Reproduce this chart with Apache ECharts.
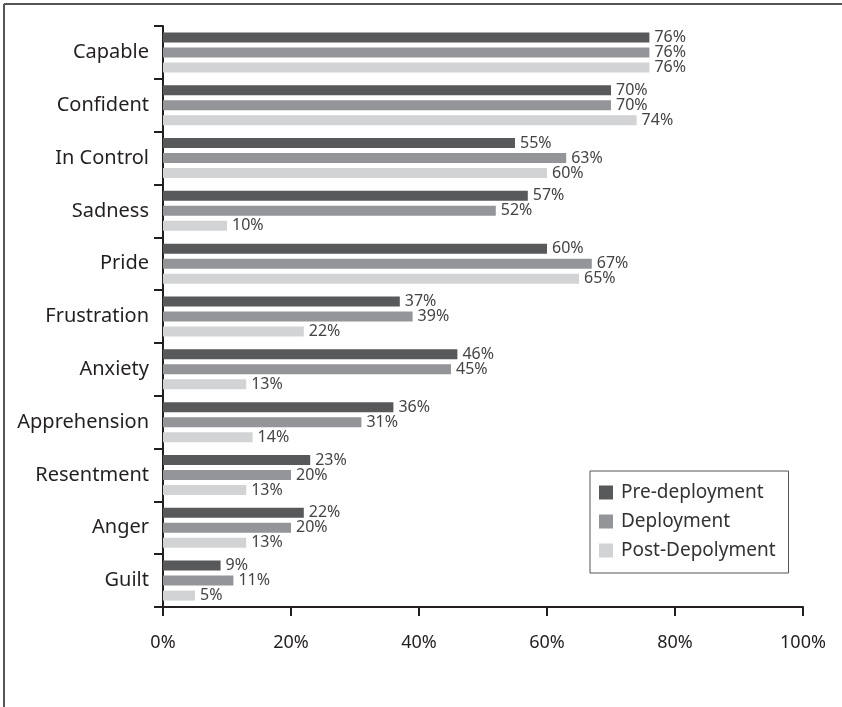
<!DOCTYPE html>
<html>
<head>
<meta charset="utf-8">
<script src="https://cdn.jsdelivr.net/npm/echarts@6/dist/echarts.min.js"></script>
<style>
  html, body { margin: 0; padding: 0; background: #fff; }
  #chart { width: 842px; height: 707px; }
</style>
</head>
<body>
<div id="chart"></div>
<script>
// Emotions reported across the three deployment phases (percent of respondents)
const categories = ['Capable', 'Confident', 'In Control', 'Sadness', 'Pride', 'Frustration',
  'Anxiety', 'Apprehension', 'Resentment', 'Anger', 'Guilt'];
const preDeployment = [76, 70, 55, 57, 60, 37, 46, 36, 23, 22, 9];
const deployment = [76, 70, 63, 52, 67, 39, 45, 31, 20, 20, 11];
const postDeployment = [76, 74, 60, 10, 65, 22, 13, 14, 13, 13, 5];
const seriesNames = ['Pre-deployment', 'Deployment', 'Post-Depolyment'];
const seriesColors = ['#58595b', '#939598', '#d1d3d4'];

const FONT = 'Noto Sans';
const chart = echarts.init(document.getElementById('chart'), null, { renderer: 'canvas' });

function barSeries(name, data, color) {
  return {
    name: name,
    type: 'bar',
    data: data,
    barWidth: 10,
    barGap: '50%',
    itemStyle: { color: color },
    label: {
      show: true,
      position: 'right',
      distance: 5,
      formatter: '{c}%',
      color: '#444',
      fontFamily: FONT,
      fontSize: 16
    },
    animation: false
  };
}

chart.setOption({
  backgroundColor: '#fff',
  animation: false,
  grid: { left: 163, right: 39, top: 26, bottom: 100, containLabel: false },
  legend: {
    orient: 'vertical',
    left: 590,
    top: 471,
    padding: [12, 13, 13, 9],
    itemWidth: 14,
    itemHeight: 14,
    itemGap: 10,
    borderColor: '#555',
    borderWidth: 1,
    textStyle: { fontFamily: FONT, fontSize: 19, color: '#333', padding: [0, 0, 0, 3] },
    data: seriesNames.map(n => ({ name: n, icon: 'rect' }))
  },
  xAxis: {
    type: 'value',
    min: 0,
    max: 100,
    interval: 20,
    axisLine: { show: true, lineStyle: { color: '#231f20', width: 2 } },
    axisTick: { show: true, length: 9, lineStyle: { color: '#231f20', width: 2 } },
    axisLabel: {
      formatter: '{value}%',
      margin: 27,
      fontFamily: FONT,
      fontSize: 18,
      color: '#231f20'
    },
    splitLine: { show: false }
  },
  yAxis: {
    type: 'category',
    data: categories,
    inverse: true,
    axisLine: { show: true, lineStyle: { color: '#231f20', width: 2 } },
    axisTick: { show: true, length: 9, lineStyle: { color: '#231f20', width: 2 } },
    axisLabel: {
      margin: 14,
      fontFamily: FONT,
      fontSize: 20,
      color: '#231f20',
      padding: [6, 0, 0, 0]
    }
  },
  series: [
    barSeries(seriesNames[0], preDeployment, seriesColors[0]),
    barSeries(seriesNames[1], deployment, seriesColors[1]),
    barSeries(seriesNames[2], postDeployment, seriesColors[2])
  ],
  graphic: [
    { type: 'line', shape: { x1: 4, y1: 4, x2: 842, y2: 4 }, style: { stroke: '#555', lineWidth: 2 } },
    { type: 'line', shape: { x1: 4, y1: 4, x2: 4, y2: 707 }, style: { stroke: '#555', lineWidth: 2 } }
  ]
});
</script>
</body>
</html>
